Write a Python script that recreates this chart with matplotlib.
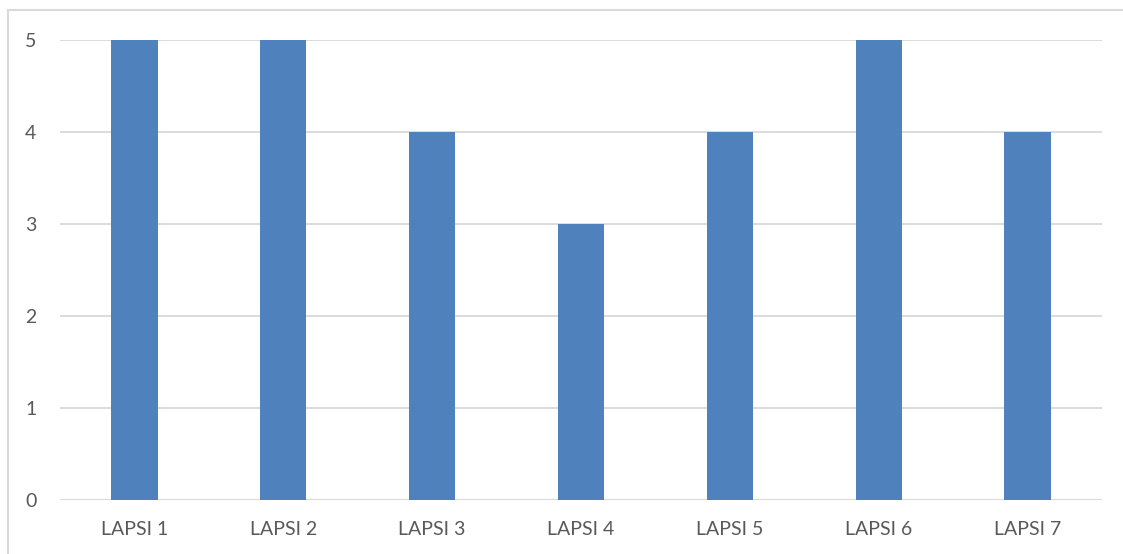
import matplotlib
matplotlib.use("Agg")
import matplotlib.pyplot as plt
from matplotlib.patches import Rectangle

categories = ["LAPSI 1", "LAPSI 2", "LAPSI 3", "LAPSI 4", "LAPSI 5", "LAPSI 6", "LAPSI 7"]
values = [5, 5, 4, 3, 4, 5, 4]
y_ticks = [0, 1, 2, 3, 4, 5]

W, H = 1123, 554
fig = plt.figure(figsize=(W / 100, H / 100), dpi=100)
plt.rcParams['font.family'] = ['Lato', 'DejaVu Sans']

# chart area frame
fig.patches.append(Rectangle((8 / W, 0 - 0.01), (W + 20) / W, (H - 10) / H + 0.01,
                             transform=fig.transFigure, fill=False,
                             edgecolor="#D9D9D9", linewidth=1.5))

ax = fig.add_axes([60 / W, 1 - 500 / H, (1102 - 60) / W, (500 - 40) / H])
x = list(range(len(categories)))
ax.bar(x, values, width=0.31, color="#4F81BD", zorder=3)
ax.set_xlim(-0.5, len(categories) - 0.5)
ax.set_ylim(0, 5)
ax.set_yticks(y_ticks)
ax.set_xticks(x)
ax.set_xticklabels(categories)
ax.grid(axis="y", color="#D9D9D9", linewidth=1.3, zorder=0)
for s in ax.spines.values():
    s.set_visible(False)
ax.axhline(0, color="#D9D9D9", linewidth=1.5, zorder=2)
ax.tick_params(axis="both", length=0, labelsize=14, colors="#595959")
ax.tick_params(axis="y", pad=17)
ax.tick_params(axis="x", pad=15)

fig.savefig("out.png", dpi=100)
